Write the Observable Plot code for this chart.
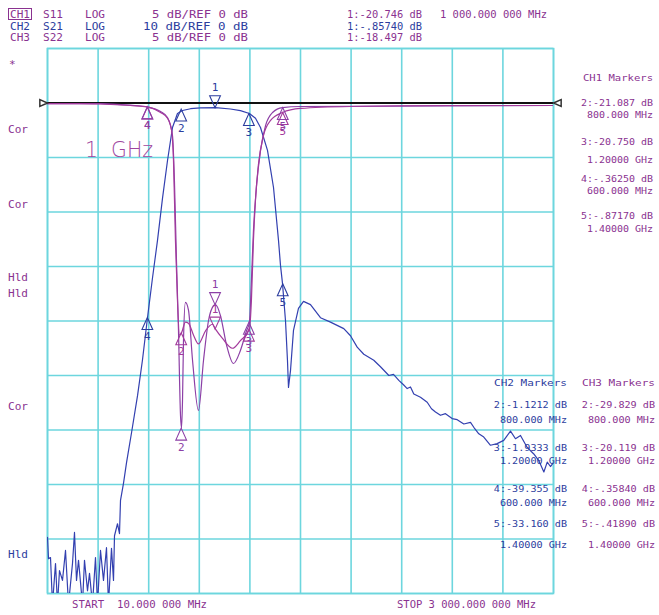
<!DOCTYPE html>
<html><head><meta charset="utf-8">
<script src="https://cdn.jsdelivr.net/npm/d3@7"></script>
<script src="https://cdn.jsdelivr.net/npm/@observablehq/plot@0.6"></script>
<style>html,body{margin:0;padding:0;background:#fff;} #chart svg{display:block;}</style>
</head><body><div id="chart"></div>
<script>
// ---- data (frequency MHz, dB) ----
const s21 = [[10,-79.7],[15.9,-83.6],[27.7,-83.4],[39.5,-92],[57.3,-84.5],[69.1,-92],[80.9,-85.8],[98.6,-87.6],[116.4,-82.1],[134.1,-92],[157.7,-84.5],[169.5,-78.8],[181.4,-87.6],[193.2,-83.9],[216.8,-92],[228.6,-83.9],[246.4,-89.5],[258.2,-86.3],[275.9,-92],[293.6,-83.4],[305.5,-92],[323.2,-82.1],[340.9,-87.6],[358.6,-81.6],[370.4,-92],[388.2,-81.7],[400,-87.6],[405.9,-79.4],[423.6,-77.2],[435.4,-79.0],[441.4,-72.9],[459,-69.8],[477,-66.0],[506,-60.6],[542,-53.7],[571,-47.2],[601,-39.36],[630,-32.2],[660,-25.2],[689.5,-17.5],[719,-10.6],[748.6,-4.5],[778,-1.93],[808,-1.38],[855,-1.05],[914,-0.9],[1003,-0.86],[1091,-1.1],[1150,-1.4],[1203,-1.93],[1239,-2.8],[1268.6,-4.5],[1310,-8.7],[1345.5,-15.5],[1375,-25.2],[1386.8,-29.8],[1398.6,-33.1],[1416.3,-39.9],[1428,-47.2],[1434,-52.2],[1445.9,-49.1],[1463.6,-41.7],[1493,-37.7],[1522.7,-36.4],[1564,-37.0],[1623,-39.4],[1682.2,-40.2],[1760.8,-41.4],[1800.4,-42.7],[1840,-44.8],[1879,-46.1],[1938,-47.2],[1977.7,-48.4],[2027,-50.0],[2054.5,-49.8],[2086,-50.9],[2113.6,-51.7],[2135.5,-52.4],[2155,-52.1],[2174.5,-53.4],[2214,-54.0],[2253.6,-54.9],[2279,-56.1],[2302.7,-56.7],[2332,-57.3],[2361.8,-57.0],[2401,-57.9],[2431,-58.1],[2470,-58.9],[2509.5,-58.6],[2529,-59.5],[2558.6,-60.7],[2588,-61.3],[2627.7,-62.8],[2667,-62.5],[2706,-61.9],[2746,-60.2],[2775.4,-61.6],[2805,-61.0],[2844.6,-63.2],[2883.6,-64.4],[2913,-65.6],[2943,-67.7],[2963,-65.9],[2982,-66.7],[3000,-66.0]];
const s11 = [[10,-0.05],[200,-0.05],[323,-0.09],[500,-0.23],[601,-0.36],[678,-0.87],[719,-1.4],[743,-2.5],[754.5,-5.3],[766,-12.6],[778,-18.1],[790,-21.3],[801.8,-21.09],[825,-20.1],[843,-20.2],[873,-21.3],[902,-22.1],[944,-20.9],[985,-20.3],[1002.7,-20.75],[1044,-21.6],[1103,-22.5],[1150,-21.8],[1203,-20.75],[1215,-18.1],[1227,-12.6],[1239,-8.9],[1256,-5.7],[1286,-3.0],[1328,-1.6],[1398.6,-0.87],[1505,-0.5],[1800,-0.32],[2391,-0.23],[3000,-0.23]];
const s22 = [[10,-0.05],[200,-0.05],[323,-0.05],[500,-0.2],[601,-0.358],[678,-0.78],[719,-1.33],[748.6,-3.0],[760,-7.1],[772,-14.4],[784,-20.9],[796,-28.7],[801.8,-29.83],[807.8,-27.3],[813.6,-21.8],[825,-18.3],[843,-19.0],[867,-23.6],[902,-28.2],[932,-23.6],[961,-20.0],[990.9,-18.6],[1002.7,-18.5],[1032,-19.5],[1068,-22.2],[1109,-23.9],[1150,-22.7],[1186,-20.9],[1203,-20.12],[1215,-16.3],[1227,-11.7],[1245,-7.6],[1268.6,-4.4],[1298,-2.1],[1340,-0.87],[1398.6,-0.42],[1505,-0.32],[2096,-0.28],[3000,-0.23]];

const markerFreq = [1000, 800, 1200, 600, 1400];
const ch1MarkerDb = [-20.746, -21.087, -20.750, -0.3625, -0.8717];
const ch2MarkerDb = [-0.8574, -1.1212, -1.9333, -39.355, -33.160];
const ch3MarkerDb = [-18.497, -29.829, -20.119, -0.3584, -0.4189];

const ch1List = ["2:-21.087 dB","800.000 MHz","3:-20.750 dB","1.20000 GHz","4:-.36250 dB","600.000 MHz","5:-.87170 dB","1.40000 GHz"];
const ch2List = ["2:-1.1212 dB","800.000 MHz","3:-1.9333 dB","1.20000 GHz","4:-39.355 dB","600.000 MHz","5:-33.160 dB","1.40000 GHz"];
const ch3List = ["2:-29.829 dB","800.000 MHz","3:-20.119 dB","1.20000 GHz","4:-.35840 dB","600.000 MHz","5:-.41890 dB","1.40000 GHz"];

// ---- scale: y in CH1/CH3 units (5 dB/div, ref 0 dB at 9th division); CH2 is 10 dB/div ----
const ch2 = v => v / 2;
const GRID = "#6dd6de", PURPLE = "#8a3290", BLUE = "#2c3d9e";
const C11 = "#a33a9c", C22 = "#8c3fa6", C21 = "#3340b0";

const tri = { draw(ctx, size) { const h = Math.sqrt(size) * 1.35, w = h * 0.45; ctx.moveTo(0,0); ctx.lineTo(w,h); ctx.lineTo(-w,h); ctx.closePath(); } };

function mk(dbs, fn) { return markerFreq.map((f,i) => ({n: String(i+1), f, v: fn(dbs[i]), active: i === 0})); }
const m1 = mk(ch1MarkerDb, d => d), m2 = mk(ch2MarkerDb, ch2), m3 = mk(ch3MarkerDb, d => d);

function markerMarks(ms, color) {
  const act = ms.filter(d => d.active), rest = ms.filter(d => !d.active);
  return [
    Plot.dot(rest, {x: "f", y: "v", symbol: tri, r: 5, stroke: color, fill: "none", strokeWidth: 1.1}),
    Plot.dot(act, {x: "f", y: "v", symbol: tri, r: 5, rotate: 180, stroke: color, fill: "none", strokeWidth: 1.1}),
    Plot.text(rest, {x: "f", y: "v", text: "n", dy: 19, fill: color, fontSize: 11, fontFamily: "DejaVu Sans Mono"}),
    Plot.text(act, {x: "f", y: "v", text: "n", dy: -20, fill: color, fontSize: 11, fontFamily: "DejaVu Sans Mono"})
  ];
}

const plot = Plot.plot({
  width: 659, height: 615,
  marginLeft: 47, marginRight: 106, marginTop: 48, marginBottom: 22,
  x: {domain: [10, 3000], axis: null},
  y: {domain: [-45, 5], axis: null},
  style: {background: "white"},
  marks: [
    Plot.gridX({ticks: d3.range(10, 3001, 299), stroke: GRID, strokeOpacity: 1, strokeWidth: 1.6}),
    Plot.gridY({ticks: d3.range(-45, 6, 5), stroke: GRID, strokeOpacity: 1, strokeWidth: 1.6}),
    Plot.frame({stroke: GRID, strokeWidth: 1.6}),
    Plot.ruleY([0], {stroke: "#111", strokeWidth: 2}),
    Plot.line(s21, {x: d => d[0], y: d => ch2(d[1]), stroke: C21, strokeWidth: 1.2, clip: true}),
    Plot.line(s22, {x: d => d[0], y: d => d[1], stroke: C22, strokeWidth: 1.2, curve: "monotone-x", clip: true}),
    Plot.line(s11, {x: d => d[0], y: d => d[1], stroke: C11, strokeWidth: 1.2, curve: "monotone-x", clip: true}),
    ...markerMarks(m2, BLUE),
    ...markerMarks(m1, C11),
    ...markerMarks(m3, C22),
    Plot.dot([{f: 10, v: 0}], {x: "f", y: "v", symbol: tri, r: 3.2, rotate: 90, stroke: "#333", fill: "white"}),
    Plot.dot([{f: 3000, v: 0}], {x: "f", y: "v", symbol: tri, r: 3.2, rotate: -90, stroke: "#333", fill: "white"})
  ]
});
document.getElementById("chart").append(plot);

const svg = d3.select(plot);
function txt(x, y, s, color, o = {}) {
  const t = svg.append("text").attr("x", x).attr("y", y).attr("fill", color)
    .attr("font-family", o.family || "DejaVu Sans Mono, monospace")
    .attr("font-size", o.size || 11)
    .attr("text-anchor", o.anchor || "start")
    .attr("xml:space", "preserve")
    .text(s);
  if (o.len) t.attr("textLength", o.len).attr("lengthAdjust", "spacingAndGlyphs");
  return t;
}
// header rows
svg.append("rect").attr("x", 8.5).attr("y", 8.5).attr("width", 23).attr("height", 11).attr("fill", "none").attr("stroke", PURPLE).attr("stroke-width", 1);
const HS = 10.5;
const rows = [["CH1","S11","5 dB/REF 0 dB",PURPLE,18,96,"1:-20.746 dB"],["CH2","S21","10 dB/REF 0 dB",BLUE,29.5,105,"1:-.85740 dB"],["CH3","S22","5 dB/REF 0 dB",PURPLE,41,96,"1:-18.497 dB"]];
rows.forEach(r => {
  txt(10, r[4], r[0], r[3], {len: 20, size: HS});
  txt(43, r[4], r[1], r[3], {len: 20, size: HS});
  txt(85, r[4], "LOG", r[3], {len: 20, size: HS});
  txt(248, r[4], r[2], r[3], {anchor: "end", len: r[5], size: HS});
  txt(347, r[4], r[6], r[3], {len: 75, size: HS});
});
txt(440, 18, "1 000.000 000 MHz", PURPLE, {len: 107, size: HS});

// left status annotations
txt(9, 68, "*", PURPLE, {size: 11});
[["Cor",133,PURPLE],["Cor",208,PURPLE],["Hld",281,PURPLE],["Hld",297,PURPLE],["Cor",410,PURPLE],["Hld",558,BLUE]].forEach(a => txt(8, a[1], a[0], a[2], {len: 20, size: 10.5}));

// 1 GHz note
txt(85, 157, "1  GHz", "#a0459e", {family: "DejaVu Sans", size: 22, len: 68}).attr("font-weight", 300);

// marker tables
const LS = 9.5;
txt(653, 81, "CH1 Markers", PURPLE, {anchor: "end", len: 70, size: LS});
const y1 = [106, 118, 145, 163, 182, 194, 219, 232];
ch1List.forEach((s, i) => txt(653, y1[i], s, PURPLE, {anchor: "end", len: s.length * 6.0, size: LS}));
txt(567, 386, "CH2 Markers", BLUE, {anchor: "end", len: 73, size: LS});
txt(655, 386, "CH3 Markers", PURPLE, {anchor: "end", len: 73, size: LS});
const y2 = [408, 423, 451, 464, 492, 506, 527, 548];
ch2List.forEach((s, i) => txt(567, y2[i], s, BLUE, {anchor: "end", len: s.length * 6.1, size: LS}));
ch3List.forEach((s, i) => txt(655, y2[i], s, PURPLE, {anchor: "end", len: s.length * 6.1, size: LS}));

// start / stop
txt(72, 608, "START  10.000 000 MHz", PURPLE, {len: 135, size: 10.5});
txt(397, 608, "STOP 3 000.000 000 MHz", PURPLE, {len: 139, size: 10.5});
</script>
</body></html>
